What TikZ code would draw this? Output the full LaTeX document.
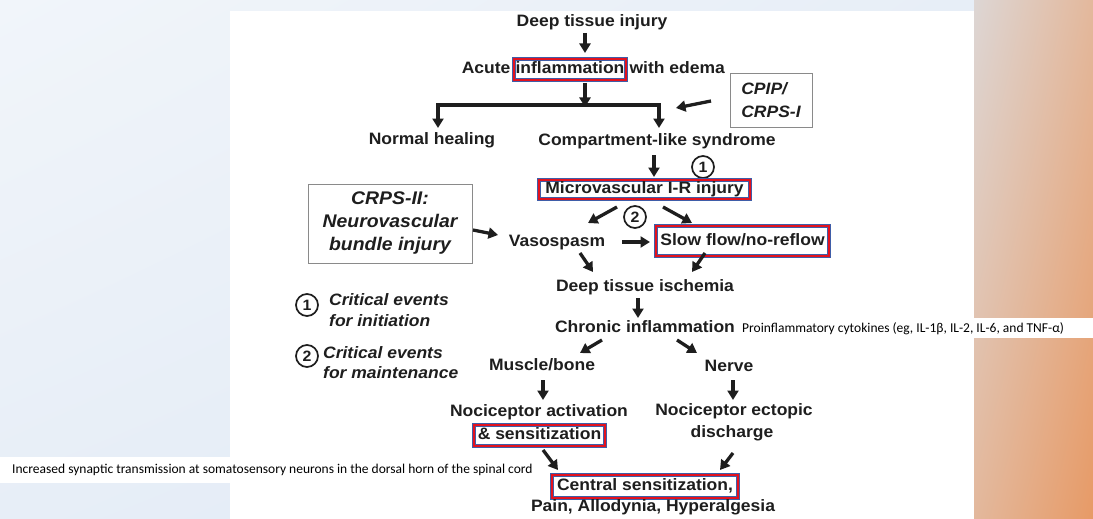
\documentclass[tikz,border=0pt]{standalone}
\usepackage{fontspec}
\setmainfont{Liberation Sans}[FakeStretch=1.06]
\newfontfamily\calibri{Carlito}
\usetikzlibrary{arrows.meta,shadings}
\definecolor{ink}{HTML}{1E1E1E}
\definecolor{hlred}{HTML}{E3121E}
\definecolor{hlblue}{HTML}{3F5DA8}
\definecolor{boxgray}{HTML}{8A8A8A}
\definecolor{bgA}{HTML}{F1F5FA}
\definecolor{bgB}{HTML}{E7EEF7}
\definecolor{bgC}{HTML}{DFE9F5}
\definecolor{orA}{HTML}{DDD6D4}
\definecolor{orB}{HTML}{E3B89C}
\definecolor{orC}{HTML}{E79A66}

\begin{document}
\begin{tikzpicture}[x=1pt, y=-1pt,
	every node/.style={font=\fontsize{16.5}{21}\selectfont\bfseries, text=ink, inner sep=0pt},
	lbl/.style={text height=12pt, text depth=3.5pt},
	hl/.style={lbl, draw=hlblue, double=hlred, line width=0.8pt, double distance=2.4pt},
	frame/.style={draw=boxgray, line width=0.9pt, font=\fontsize{16.5}{23}\selectfont\bfseries\itshape},
	legend/.style={anchor=west, align=left, font=\fontsize{16.5}{21}\selectfont\bfseries\itshape},
	num/.style={circle, draw=ink, line width=1.7pt, minimum size=22pt, font=\fontsize{15}{15}\selectfont\bfseries},
	arr/.style={draw=ink, line width=3.3pt, -{Triangle[width=11pt,length=9.5pt]}},
	note/.style={anchor=west, text=black, font=\calibri\fontsize{13.5}{15}\selectfont}]
	\useasboundingbox (0,0) rectangle (1093,519);
	\shade[upper left=bgA, upper right=bgB, lower left=bgB, lower right=bgC] (0,0) rectangle (974,519);
	\shade[upper left=orA, upper right=orB, lower left=orB, lower right=orC] (974,0) rectangle (1093,519);
	\fill[white] (230,11) rectangle (974,519);

	\node[lbl] (dti) at (592,22) {Deep tissue injury};
	\node[hl, minimum width=112pt, minimum height=21pt] (infl) at (570,69.5) {inflammation};
	\node[lbl, anchor=east] (acute) at ([xshift=-3pt]infl.west) {Acute};
	\node[lbl, anchor=west] (edema) at ([xshift=3pt]infl.east) {with edema};
	\coordinate (barL) at (438,105);
	\coordinate (split) at (585,105);
	\coordinate (barR) at (659,105);
	\node[frame, align=left, minimum width=82pt, minimum height=54pt] (cpip) at (771,100) {CPIP/\\CRPS-I};
	\node[lbl] (normal) at (432,140) {Normal healing};
	\node[lbl] (compart) at (657,141) {Compartment-like syndrome};
	\node[num] (one) at (703,167) {1};
	\node[hl, minimum width=211pt, minimum height=19pt] (micro) at (644.5,189.5) {Microvascular I-R injury};
	\node[num] (two) at (635,217) {2};
	\node[frame, align=center, minimum width=164pt, minimum height=79pt, font=\fontsize{18.3}{23}\selectfont\bfseries\itshape] (crps) at (390,223.5) {CRPS-II:\\Neurovascular\\bundle injury};
	\node[lbl] (vaso) at (557,242) {Vasospasm};
	\node[hl, minimum width=173pt, minimum height=30pt] (slow) at (742.5,241) {Slow flow/no-reflow};
	\node[lbl] (isch) at (645,287) {Deep tissue ischemia};
	\node[lbl] (chronic) at (645,328) {Chronic inflammation};
	\node[lbl] (muscle) at (542,366) {Muscle/bone};
	\node[lbl] (nerve) at (729,367) {Nerve};
	\node[lbl] (nact) at (539,412) {Nociceptor activation};
	\node[hl, minimum width=131pt, minimum height=21pt] (sens) at (539.5,435.5) {\& sensitization};
	\node[lbl] (ecto) at (734,411) {Nociceptor ectopic};
	\node[lbl] (disch) at (732,433) {discharge};
	\node[hl, minimum width=186pt, minimum height=23pt] (central) at (645,486.5) {Central sensitization,};
	\node[lbl] (pain) at (653,507) {Pain, Allodynia, Hyperalgesia};

	\node[num] (leg1) at (307,305) {1};
	\node[legend] (leg1txt) at (329,310.5) {Critical events\\for initiation};
	\node[num] (leg2) at (307,356) {2};
	\node[legend, font=\fontsize{16.5}{20}\selectfont\bfseries\itshape] (leg2txt) at (323,363) {Critical events\\for maintenance};

	\draw[ink, line width=4pt, line cap=rect] (barL) -- (barR);
	\foreach \a/\ax/\ay/\b/\bx/\by in {dti/-7/11/infl/15/-16.5, infl/15/13.5/split/0/2, barL/0/0/normal/6/-12,
		barR/0/0/compart/2/-13, cpip/-60/1/barR/17/3, compart/-3/14/micro/9.5/-12.5,
		micro/-27.5/17.5/vaso/31/-19, micro/18.5/17.5/slow/-50.5/-18, crps/83/6.5/vaso/-59/-7,
		vaso/65/0/slow/-92.5/1, vaso/23/11/isch/-52/-15, slow/-37.5/12/isch/47/-15,
		isch/-7/11/chronic/-7/-10, chronic/-43/12/muscle/38/-13, chronic/32/12/nerve/-32/-14,
		muscle/1/14/nact/4/-12, nerve/4/13/ecto/-1/-11, sens/3.5/14.5/central/-87/-16.5,
		disch/1/20/central/75/-16.5}
		\draw[arr] ([shift={(\ax,\ay)}]\a.center) -- ([shift={(\bx,\by)}]\b.center);

	\fill[white] (737,318) rectangle (1093,338);
	\node[note] (cyto) at (742,329) {Proinflammatory cytokines (eg, IL-1β, IL-2, IL-6, and TNF-α)};
	\fill[white] (0,457) rectangle (535,483);
	\node[note] (synaptic) at (12,470) {Increased synaptic transmission at somatosensory neurons in the dorsal horn of the spinal cord};
\end{tikzpicture}
\end{document}
